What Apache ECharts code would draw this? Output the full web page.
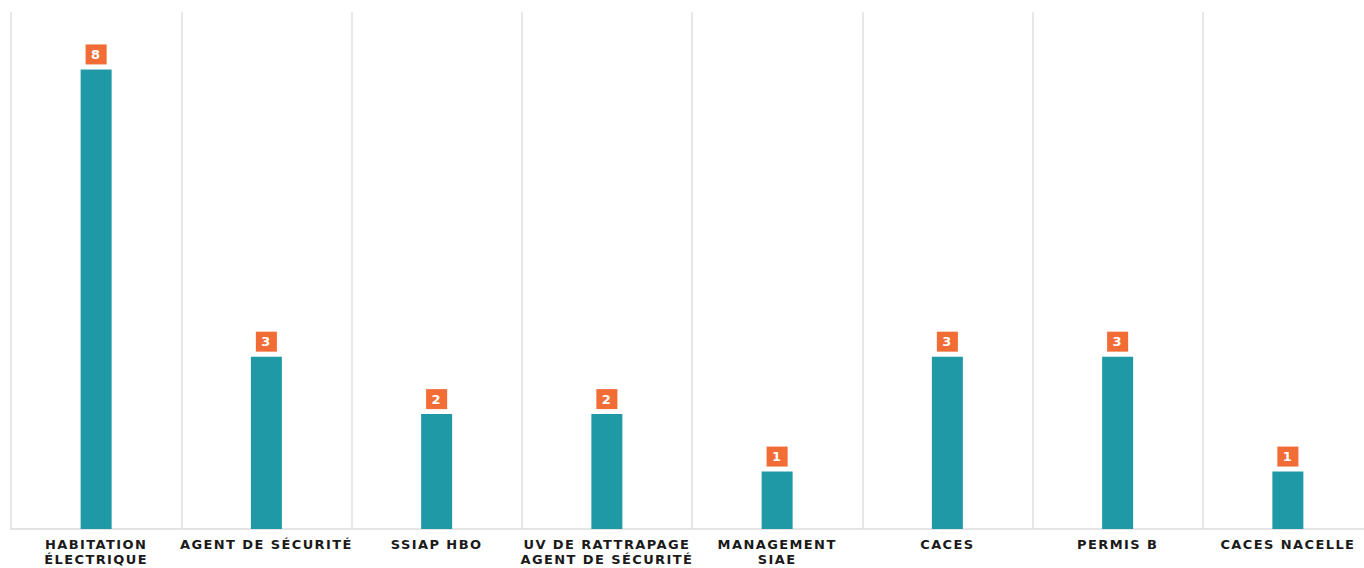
<!DOCTYPE html>
<html><head><meta charset="utf-8">
<script src="https://cdn.jsdelivr.net/npm/echarts@6/dist/echarts.min.js"></script>
<style>html,body{margin:0;padding:0;background:#fff}#c{width:1364px;height:568px}
#c text{letter-spacing:1.4px}</style>
</head><body><div id="c"></div>
<script>
const categories = ['HABITATION\nÉLECTRIQUE','AGENT DE SÉCURITÉ','SSIAP HBO','UV DE RATTRAPAGE\nAGENT DE SÉCURITÉ','MANAGEMENT\nSIAE','CACES','PERMIS B','CACES NACELLE'];
const values = [8,3,2,2,1,3,3,1];

const chart = echarts.init(document.getElementById('c'), null, {renderer:'svg'});
chart.setOption({
  animation:false,
  grid:{left:11,width:1362,top:12,height:517,containLabel:false,outerBoundsMode:'none'},
  xAxis:{type:'category',data:categories,
    axisLine:{lineStyle:{color:'#dcdcdc',width:1.5}},
    axisTick:{show:false},
    splitLine:{show:true,lineStyle:{color:'#e0e0e0',width:1.5}},
    axisLabel:{interval:0,margin:8,color:'#1a1a1a',fontFamily:'DejaVu Sans',fontWeight:'bold',fontSize:13,lineHeight:15}
  },
  yAxis:{type:'value',min:0,max:9,show:false,splitLine:{show:false}},
  series:[{type:'bar',data:values,barWidth:31,
    itemStyle:{color:'#1f99a5'},
    label:{show:true,position:'top',distance:5,backgroundColor:'#f26c36',color:'#fff',
      fontFamily:'DejaVu Sans',fontWeight:'bold',fontSize:13,lineHeight:14,padding:[3,6,3,6]}
  }]
});
</script></body></html>
